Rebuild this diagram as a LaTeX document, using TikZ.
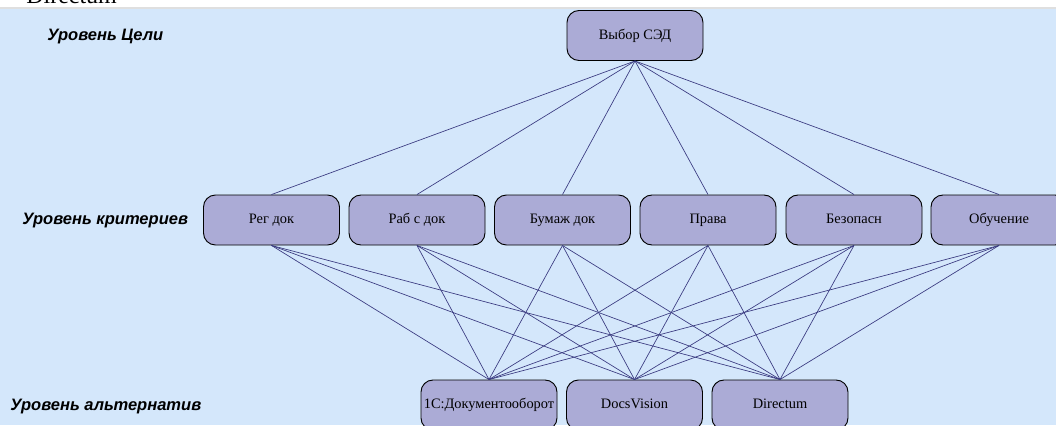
\documentclass[tikz,border=0pt]{standalone}
\usepackage{fontspec}
\setmainfont{Liberation Serif}
\newfontfamily\lblfont{Liberation Sans}
\definecolor{bgblue}{HTML}{D4E7FB}
\definecolor{boxfill}{HTML}{ABABD6}
\definecolor{linkc}{HTML}{3A3A80}
\begin{document}
\begin{tikzpicture}[x=0.75pt,y=-0.75pt,
  box/.style={draw=black, fill=boxfill, rounded corners=9pt, minimum width=102pt,
    minimum height=37.5pt, inner sep=0pt, line width=0.7pt,
    text height=1.5ex, text depth=0.3ex,
    font=\fontsize{10.8}{12}\selectfont},
  link/.style={draw=linkc, line width=0.5pt},
  lvl/.style={anchor=west, inner sep=0pt,
    font=\lblfont\bfseries\itshape\fontsize{12.4}{14}\selectfont}]
\useasboundingbox (0,0) rectangle (1056,425);
\clip (0,0) rectangle (1056,425);
\fill[white] (0,0) rectangle (1056,9);
\node[anchor=base west, inner sep=0pt, font=\fontsize{18}{18}\selectfont] (cut) at (26,3) {Directum};
\fill[gray!25] (0,7) rectangle (1056,9);
\fill[bgblue] (0,9) rectangle (1056,425);
% levels
\node[lvl] (l1) at (47,37) {Уровень Цели};
\node[lvl] (l2) at (22,221) {Уровень критериев};
\node[lvl] (l3) at (10,407) {Уровень альтернатив};
% goal
\node[box] (goal) at (635,35.5) {Выбор СЭД};
% criteria
\node[box] (c1) at (271.5,220) {Рег док};
\node[box] (c2) at (417,220) {Раб с док};
\node[box] (c3) at (562.5,220) {Бумаж док};
\node[box] (c4) at (708,220) {Права};
\node[box] (c5) at (854,220) {Безопасн};
\node[box] (c6) at (999,220) {Обучение};
% alternatives
\node[box] (a1) at (489,405) {1С:Документооборот};
\node[box] (a2) at (634.5,405) {DocsVision};
\node[box] (a3) at (780,405) {Directum};
% links
\foreach \c in {c1,c2,c3,c4,c5,c6}{
  \draw[link] (goal.south) -- (\c.north);
  \foreach \a in {a1,a2,a3}{
    \draw[link] (\c.south) -- (\a.north);
  }
}
\end{tikzpicture}
\end{document}
